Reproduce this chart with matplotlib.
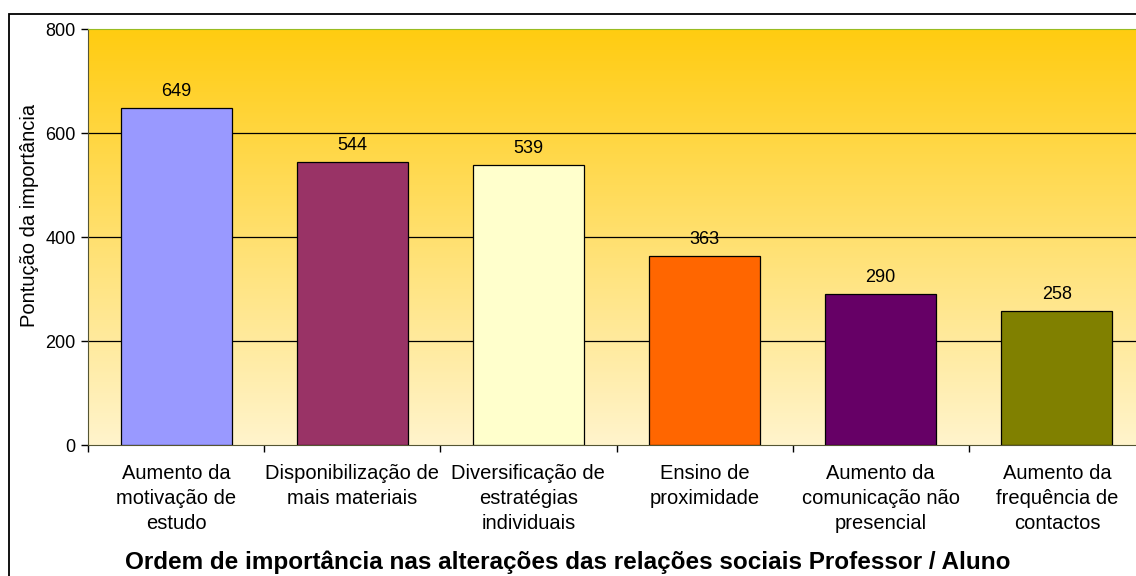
import matplotlib.pyplot as plt
import numpy as np
from matplotlib.colors import LinearSegmentedColormap
from matplotlib.patches import Rectangle

categories = [
    "Aumento da\nmotivação de\nestudo",
    "Disponibilização de\nmais materiais",
    "Diversificação de\nestratégias\nindividuais",
    "Ensino de\nproximidade",
    "Aumento da\ncomunicação não\npresencial",
    "Aumento da\nfrequência de\ncontactos",
]
values = [649, 544, 539, 363, 290, 258]
bar_colors = ["#9999FF", "#993366", "#FFFFCC", "#FF6600", "#660066", "#808000"]
y_ticks = [0, 200, 400, 600, 800]

plt.rcParams["font.family"] = ["Liberation Sans", "DejaVu Sans"]

fig = plt.figure(figsize=(11.36, 5.76), dpi=100)
ax = fig.add_axes([88 / 1136, 1 - 445 / 576, 1057 / 1136, 416 / 576])

# outer chart frame
fig.patches.append(Rectangle((9 / 1136, -0.1), 1.2, 1.1 - 14 / 576,
                             transform=fig.transFigure, fill=False,
                             edgecolor="black", linewidth=1.3))

# gradient background, gold at top to pale cream at bottom
cmap = LinearSegmentedColormap.from_list("bg", ["#FFF4CC", "#FFCC11"])
grad = np.linspace(0, 1, 256).reshape(-1, 1)
ax.imshow(grad, cmap=cmap, aspect="auto", origin="lower",
          extent=[0, 1, 0, 1], transform=ax.transAxes, zorder=0)

x = np.arange(len(values))
ax.bar(x, values, width=0.63, color=bar_colors, edgecolor="black",
       linewidth=0.9, zorder=3)
for xi, v in zip(x, values):
    ax.text(xi, v + 15, str(v), ha="center", va="bottom", fontsize=13)

ax.set_xlim(-0.5, len(values) - 0.5)
ax.set_ylim(0, 800)
ax.set_yticks(y_ticks)
ax.tick_params(axis="y", labelsize=13, length=5, width=1, pad=4)
for yv in y_ticks[1:-1]:
    ax.axhline(yv, color="black", linewidth=0.9, zorder=1)

ax.set_xticks(x)
ax.set_xticklabels(categories, fontsize=14.5, linespacing=1.37)
ax.set_xticks(np.arange(-0.5, len(values)), minor=True)
ax.tick_params(axis="x", which="major", length=0, pad=14)
ax.tick_params(axis="x", which="minor", length=5, width=1)

for side in ["left", "bottom"]:
    ax.spines[side].set_color("#555533")
ax.spines["top"].set_color("#99BB22")
ax.spines["right"].set_visible(False)

ax.set_ylabel("Pontução da importância", fontsize=14.5)
ax.yaxis.set_label_coords(-0.046, 0.553)
fig.text(0.5, 1 - 562 / 576,
         "Ordem de importância nas alterações das relações sociais Professor / Aluno",
         ha="center", va="center", fontsize=17.5, fontweight="bold")

fig.savefig("out.png", dpi=100)
